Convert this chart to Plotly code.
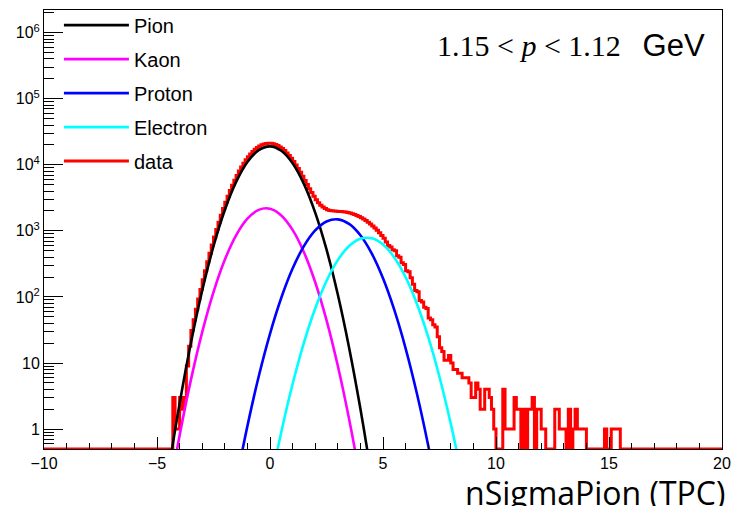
import numpy as np
import plotly.graph_objects as go

# ---------------- data ----------------
# fitted component curves (sampled every 0.5 in nSigma)
pion_x = [-5.0, -4.5, -4.0, -3.5, -3.0, -2.5, -2.0, -1.5, -1.0, -0.5, 0.0,
          0.5, 1.0, 1.5, 2.0, 2.5, 3.0, 3.5, 4.0, 4.5, 5.0]
pion_y = [0.0153, 0.221, 2.43, 20.1, 124.9, 585, 2067, 5502, 11033, 16676, 18996,
          16303, 10545, 5140, 1888, 523, 109, 17.1, 2.03, 0.181, 0.0122]

kaon_x = [-4.5, -4.0, -3.5, -3.0, -2.5, -2.0, -1.5, -1.0, -0.5, 0.0,
          0.5, 1.0, 1.5, 2.0, 2.5, 3.0, 3.5, 4.0, 4.5]
kaon_y = [0.088, 0.80, 5.56, 29.4, 118.6, 364.7, 855, 1527, 2081, 2162,
          1712, 1034, 476, 167, 44.7, 9.1, 1.42, 0.168, 0.0152]

proton_x = [-1.5, -1.0, -0.5, 0.0, 0.5, 1.0, 1.5, 2.0, 2.5, 3.0,
            3.5, 4.0, 4.5, 5.0, 5.5, 6.0, 6.5, 7.0, 7.5]
proton_y = [0.157, 1.11, 6.26, 27.7, 97.2, 268.8, 587.7, 1015, 1386, 1494,
            1273, 857, 455.7, 191.4, 63.6, 16.7, 3.45, 0.564, 0.073]

electron_x = [0.0, 0.5, 1.0, 1.5, 2.0, 2.5, 3.0, 3.5, 4.0, 4.5,
              5.0, 5.5, 6.0, 6.5, 7.0, 7.5, 8.0, 8.5, 9.0]
electron_y = [0.135, 0.907, 4.81, 20.2, 66.7, 174.5, 360.6, 588.7, 759.3, 773.7,
              622.9, 396.3, 199.2, 79.1, 24.8, 6.15, 1.20, 0.186, 0.0227]

# data histogram: 300 bins of width 0.1 on [-10, 20]; counts listed from -4.4 on
hist_lo, hist_hi, bin_width = -10.0, 20.0, 0.1
data_first_edge = -4.4
data_counts = [
    0, 3, 1, 1, 3, 2, 3, 9, 18, 31,                                  # -4.4 .. -3.5
    45, 65, 93, 130, 182, 250, 341, 460, 612, 807,                   # -3.4 .. -2.5
    1051, 1354, 1726, 2175, 2710, 3340, 4071, 4906, 5847, 6890,      # -2.4 .. -1.5
    8031, 9254, 10546, 11885, 13242, 14597, 15901, 17138, 18259, 19239,  # -1.4 .. -0.5
    20040, 20649, 21036, 21196, 21115, 20804, 20277, 19544, 18629, 17569,  # -0.4 .. 0.5
    16391, 15134, 13827, 12507, 11207, 9957, 8772, 7677, 6680, 5794,  # 0.6 .. 1.5
    5019, 4353, 3793, 3332, 2962, 2673, 2451, 2288, 2171, 2092,      # 1.6 .. 2.5
    2040, 2009, 1990, 1978, 1968, 1958, 1943, 1923, 1897, 1862,      # 2.6 .. 3.5
    1820, 1771, 1714, 1651, 1584, 1510, 1434, 1353, 1271, 1188,      # 3.6 .. 4.5
    1103, 1019, 936, 854, 770, 680, 600, 570, 520, 500,              # 4.6 .. 5.5
    420, 400, 330, 310, 250, 240, 195, 155, 125, 120,                # 5.6 .. 6.5
    88, 84, 70, 67, 48, 45, 38, 35, 25, 17,                          # 6.6 .. 7.5
    15, 11, 11, 13, 10, 8, 8, 7, 7, 6,                               # 7.6 .. 8.5
    6, 6, 5, 3, 3, 5, 4, 2, 2, 4,                                    # 8.6 .. 9.5
    4, 3, 2, 1, 0, 0, 0, 4, 1, 1,                                    # 9.6 .. 10.5
    1, 1, 3, 2, 2, 0, 2, 0, 2, 2,                                    # 10.6 .. 11.5
    3, 0, 2, 2, 1, 1, 0, 0, 0, 0,                                    # 11.6 .. 12.5
    2, 2, 1, 1, 1, 0, 2, 0, 1, 2,                                    # 12.6 .. 13.5
    1, 1, 1, 1, 0, 0, 0, 0, 0, 0,                                    # 13.6 .. 14.5
    0, 0, 1, 0, 0, 1, 1, 1, 1, 0,                                    # 14.6 .. 15.5
]

y_ticks = [1, 10, 100, 1000, 10000, 100000, 1000000]
y_ticktext = ["1", "10", "10<sup>2</sup>", "10<sup>3</sup>", "10<sup>4</sup>",
              "10<sup>5</sup>", "10<sup>6</sup>"]
y_minor = [m * 10 ** e for e in range(0, 7) for m in range(2, 10)] + [0.6, 0.7, 0.8, 0.9]
y_min, y_max = 0.5, 2.2e6

# ---------------- build histogram arrays ----------------
n_bins = int(round((hist_hi - hist_lo) / bin_width))
counts_full = np.zeros(n_bins)
i0 = int(round((data_first_edge - hist_lo) / bin_width))
counts_full[i0:i0 + len(data_counts)] = data_counts
edges = hist_lo + bin_width * np.arange(n_bins + 1)
# empty bins are drawn on the frame bottom, as ROOT does on a log axis
y_draw = np.maximum(counts_full, y_min)
y_step = np.append(y_draw, y_draw[-1])

fig = go.Figure()

fig.add_trace(go.Scatter(x=edges, y=y_step, mode="lines", line_shape="hv",
                         line=dict(color="#ff0000", width=3), name="data",
                         legendrank=5, legendgroup="e"))

curves = [
    ("Pion", pion_x, pion_y, "#000000", 1, "a"),
    ("Kaon", kaon_x, kaon_y, "#ff00ff", 2, "b"),
    ("Proton", proton_x, proton_y, "#0000ff", 3, "c"),
    ("Electron", electron_x, electron_y, "#00ffff", 4, "d"),
]
for name, xs, ys, col, rank, grp in curves:
    fig.add_trace(go.Scatter(x=xs, y=ys, mode="lines", line_shape="spline",
                             line=dict(color=col, width=2.6), name=name,
                             legendrank=rank, legendgroup=grp))

fig.update_layout(
    width=731, height=506,
    margin=dict(l=44, r=9, t=10, b=57, autoexpand=False),
    paper_bgcolor="white", plot_bgcolor="white",
    font=dict(family="Liberation Sans, Arial, sans-serif", size=16, color="black"),
    showlegend=True,
    legend=dict(x=0.022, y=1.01, xanchor="left", yanchor="top",
                bgcolor="rgba(0,0,0,0)", borderwidth=0,
                font=dict(size=20, family="Liberation Sans, Arial, sans-serif"),
                traceorder="grouped", tracegroupgap=5, itemwidth=65),
    xaxis=dict(range=[hist_lo, hist_hi], showgrid=False, zeroline=False,
               automargin=False,
               showline=True, linecolor="black", linewidth=1, mirror=True,
               ticks="inside", ticklen=12, tickcolor="black", dtick=5, tick0=0,
               minor=dict(ticks="inside", ticklen=6, dtick=1, tickcolor="black"),
               tickfont=dict(size=16)),
    yaxis=dict(type="log", range=[np.log10(y_min), np.log10(y_max)],
               showgrid=False, zeroline=False, automargin=False,
               showline=True, linecolor="black", linewidth=1, mirror=True,
               ticks="inside", ticklen=19, tickcolor="black",
               tickmode="array", tickvals=y_ticks, ticktext=y_ticktext,
               minor=dict(ticks="inside", ticklen=10, tickmode="array",
                          tickvals=y_minor, tickcolor="black"),
               tickfont=dict(size=16)),
)

fig.add_annotation(
    xref="paper", yref="paper", x=1.0, y=0.0, xanchor="right", yanchor="top",
    xshift=5, yshift=-20, showarrow=False,
    text="nSigmaPion (TPC)",
    font=dict(family="Open Sans, sans-serif", size=32, color="black"),
)
fig.add_annotation(
    xref="paper", yref="paper", x=0.971, y=0.918, xanchor="right", yanchor="middle",
    xshift=5, showarrow=False,
    text=('<span style="font-family:Liberation Serif;font-size:30px">1.15 &lt; <i>p</i>'
          ' &lt; 1.12</span>\u2002\u2009<span style="font-family:Liberation Sans">GeV</span>'),
    font=dict(family="Liberation Sans, Arial, sans-serif", size=31, color="black"),
)

fig.write_html("out.html")
